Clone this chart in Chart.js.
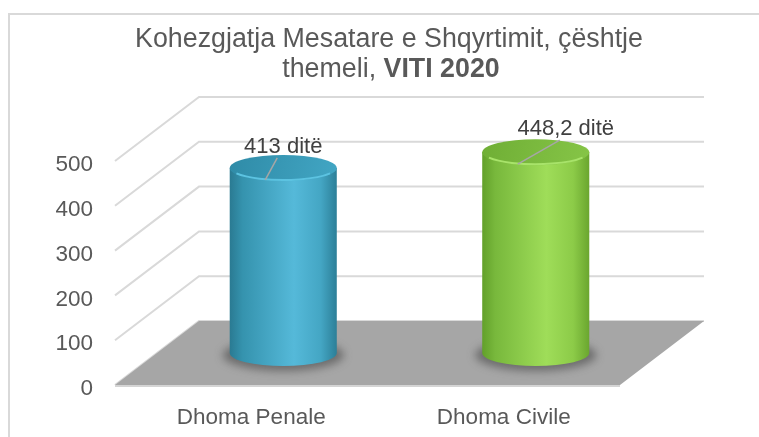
<!DOCTYPE html>
<html><head><meta charset="utf-8">
<script src="https://cdn.jsdelivr.net/npm/chart.js@4.4.1/dist/chart.umd.min.js"></script>
<style>html,body{margin:0;padding:0;background:#fff;}canvas{display:block}</style>
</head><body>
<canvas id="c" width="759" height="437"></canvas>
<script>
// ---- data ----
const categories = ['Dhoma Penale', 'Dhoma Civile'];
const values = [413, 448.2];
const valueLabels = ['413', '448,2'];
const unitLabel = 'ditë';
const yTicks = [0, 100, 200, 300, 400, 500];
const titleLine1 = 'Kohezgjatja Mesatare e Shqyrtimit, çështje';
const titleLine2Plain = 'themeli, ';
const titleLine2Bold = 'VITI 2020';

// ---- style ----
const FONT = "'Liberation Sans', Arial, sans-serif";
const DEPTH_DX = 84, DEPTH_DY = -64;
const bodyStops = [
  [[0, '#2a7a92'], [0.12, '#3593ae'], [0.6, '#55b9d9'], [0.85, '#44a6c4'], [1, '#2c7f98']],
  [[0, '#62a02a'], [0.12, '#78b83c'], [0.6, '#9fdd59'], [0.85, '#8ccb48'], [1, '#6aa62f']]
];
const capFill = [['#2f8ba7', '#42a6c4'], ['#6fae35', '#86c547']];
const capRim = ['#5cc3e1', '#a8e36a'];
const labelDx = [0, 30], labelDy = [-15, -17];

const threeD = {
  id: 'threeD',
  beforeDraw(chart) {
    const ctx = chart.ctx;
    ctx.save();
    ctx.strokeStyle = '#d9d9d9'; ctx.lineWidth = 2;
    ctx.beginPath(); ctx.moveTo(9, 440); ctx.lineTo(9, 14); ctx.lineTo(762, 14); ctx.stroke();
    ctx.fillStyle = '#595959';
    ctx.textBaseline = 'alphabetic';
    ctx.font = '100px ' + FONT;
    const w1 = ctx.measureText(titleLine1).width;
    const fs = Math.min(27, 100 * 508 / w1);
    ctx.font = fs + 'px ' + FONT;
    ctx.textAlign = 'center';
    ctx.fillText(titleLine1, 389, 47);
    const wa = ctx.measureText(titleLine2Plain).width;
    ctx.font = 'bold ' + fs + 'px ' + FONT;
    const wb = ctx.measureText(titleLine2Bold).width;
    const x0 = 391 - (wa + wb) / 2;
    ctx.textAlign = 'left';
    ctx.font = fs + 'px ' + FONT;
    ctx.fillText(titleLine2Plain, x0, 77);
    ctx.font = 'bold ' + fs + 'px ' + FONT;
    ctx.fillText(titleLine2Bold, x0 + wa, 77);
    ctx.restore();
  },
  beforeDatasetsDraw(chart) {
    const ctx = chart.ctx, y = chart.scales.y, a = chart.chartArea;
    ctx.save();
    ctx.strokeStyle = '#d9d9d9'; ctx.lineWidth = 2;
    yTicks.forEach(v => {
      const py = y.getPixelForValue(v);
      ctx.beginPath();
      ctx.moveTo(a.left, py);
      ctx.lineTo(a.left + DEPTH_DX, py + DEPTH_DY);
      ctx.lineTo(a.right + DEPTH_DX, py + DEPTH_DY);
      ctx.stroke();
    });
    const b = y.getPixelForValue(0);
    ctx.fillStyle = '#a6a6a6';
    ctx.beginPath();
    ctx.moveTo(a.left, b);
    ctx.lineTo(a.right, b);
    ctx.lineTo(a.right + DEPTH_DX, b + DEPTH_DY);
    ctx.lineTo(a.left + DEPTH_DX, b + DEPTH_DY);
    ctx.closePath(); ctx.fill();
    ctx.strokeStyle = '#d4d4d4'; ctx.lineWidth = 2;
    ctx.beginPath(); ctx.moveTo(a.left, b + 1); ctx.lineTo(a.right, b + 1); ctx.stroke();
    ctx.restore();
  },
  afterDatasetsDraw(chart) {
    const ctx = chart.ctx;
    const meta = chart.getDatasetMeta(0);
    const mdx = DEPTH_DX / 2, mdy = DEPTH_DY / 2;
    meta.data.forEach((bar, i) => {
      const p = bar.getProps(['x', 'y', 'base', 'width'], true);
      const cx = p.x + mdx, topY = p.y + mdy, botY = p.base + mdy;
      const rx = p.width / 2, ry = 13;
      ctx.save();
      ctx.filter = 'blur(4px)';
      ctx.fillStyle = 'rgba(60,60,60,0.55)';
      ctx.beginPath(); ctx.ellipse(cx, botY + 2, rx + 7, ry + 3, 0, 0, Math.PI * 2); ctx.fill();
      ctx.filter = 'none';
      const g = ctx.createLinearGradient(cx - rx, 0, cx + rx, 0);
      bodyStops[i].forEach(s => g.addColorStop(s[0], s[1]));
      ctx.fillStyle = g;
      ctx.beginPath();
      ctx.moveTo(cx - rx, topY);
      ctx.lineTo(cx - rx, botY);
      ctx.ellipse(cx, botY, rx, ry, 0, Math.PI, 0, true);
      ctx.lineTo(cx + rx, topY);
      ctx.closePath(); ctx.fill();
      const cg = ctx.createLinearGradient(cx - rx, topY - ry, cx + rx, topY + ry);
      cg.addColorStop(0, capFill[i][0]); cg.addColorStop(1, capFill[i][1]);
      ctx.fillStyle = cg;
      ctx.beginPath(); ctx.ellipse(cx, topY, rx, ry, 0, 0, Math.PI * 2); ctx.fill();
      ctx.strokeStyle = capRim[i]; ctx.lineWidth = 2;
      ctx.beginPath(); ctx.ellipse(cx, topY, rx - 1, ry - 1, 0, 0.15 * Math.PI, 0.85 * Math.PI); ctx.stroke();
      const lx = cx + labelDx[i], ly = topY + labelDy[i];
      ctx.strokeStyle = '#a6a6a6'; ctx.lineWidth = 1.5;
      ctx.beginPath(); ctx.moveTo(lx - 6, ly + 5); ctx.lineTo(cx - 18, topY + 12); ctx.stroke();
      ctx.fillStyle = '#404040';
      ctx.font = '22px ' + FONT;
      ctx.textAlign = 'center'; ctx.textBaseline = 'alphabetic';
      ctx.fillText(valueLabels[i] + ' ' + unitLabel, lx, ly);
      ctx.restore();
    });
  }
};

new Chart(document.getElementById('c'), {
  type: 'bar',
  data: {
    labels: categories,
    datasets: [{ data: values, backgroundColor: 'rgba(0,0,0,0)', borderWidth: 0,
                 categoryPercentage: 1, barPercentage: 0.424 }]
  },
  options: {
    responsive: false, animation: false, devicePixelRatio: 1,
    layout: { padding: { left: 0, right: 139, top: 161, bottom: 0 } },
    plugins: { legend: { display: false }, tooltip: { enabled: false }, title: { display: false } },
    scales: {
      x: {
        grid: { display: false, drawTicks: false }, border: { display: false },
        ticks: { color: '#595959', font: { family: FONT, size: 22.5 }, padding: 19, labelOffset: 10 },
        afterFit: s => { s.height = 52; }
      },
      y: {
        min: 0, max: 500,
        afterBuildTicks: s => { s.ticks = yTicks.map(v => ({ value: v })); },
        grid: { display: false, drawTicks: false }, border: { display: false },
        ticks: { color: '#595959', font: { family: FONT, size: 22.5 }, padding: 22, labelOffset: 4 },
        afterFit: s => { s.width = 115; }
      }
    }
  },
  plugins: [threeD]
});
</script>
</body></html>
